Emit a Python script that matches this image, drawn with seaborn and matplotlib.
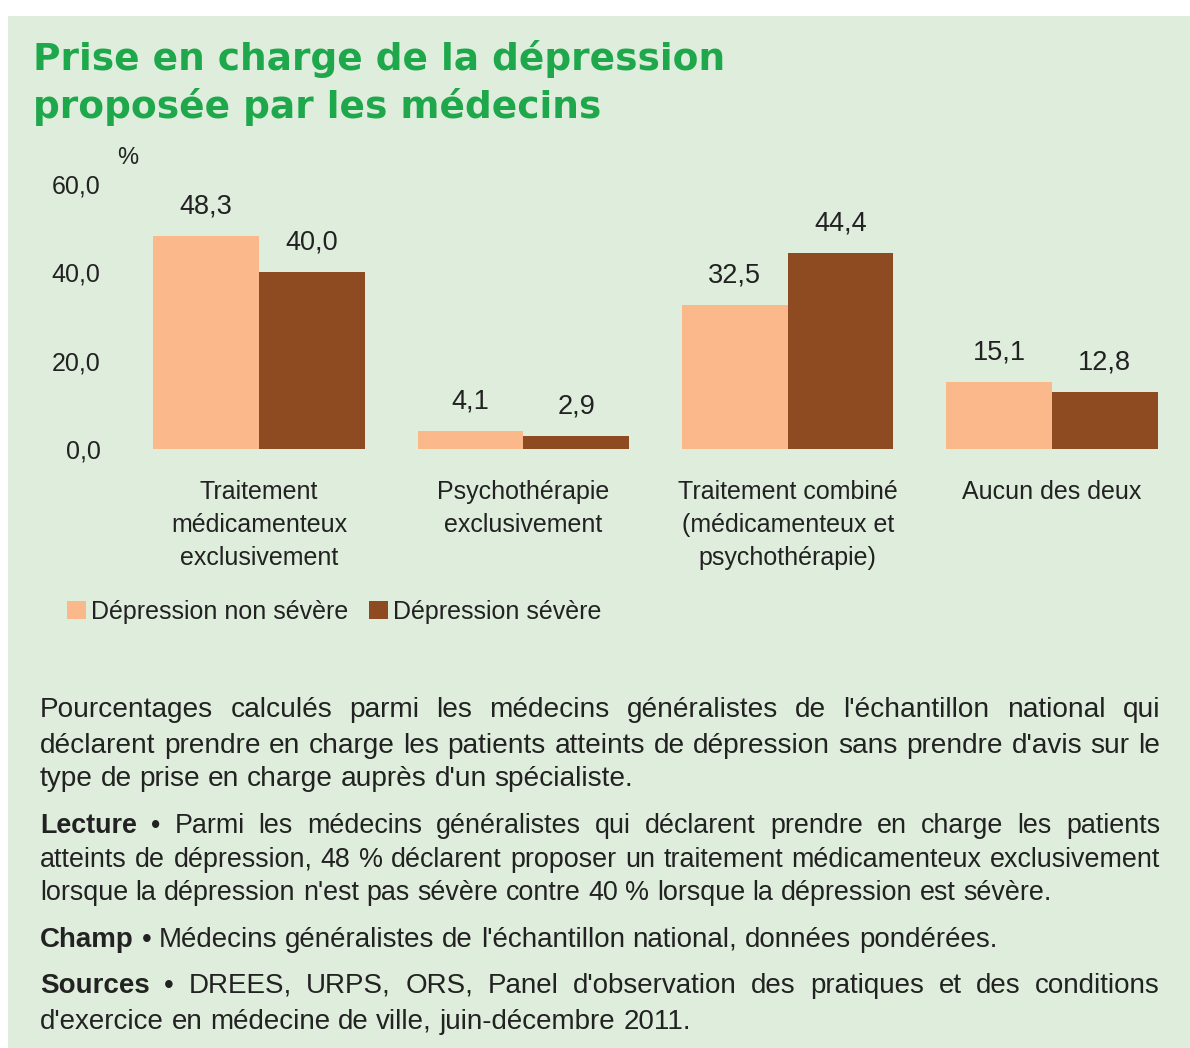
import matplotlib.pyplot as plt
import seaborn as sns
import pandas as pd
from matplotlib.patches import Rectangle

# data
categories = [
    "Traitement\nmédicamenteux\nexclusivement",
    "Psychothérapie\nexclusivement",
    "Traitement combiné\n(médicamenteux et\npsychothérapie)",
    "Aucun des deux",
]
series = ["Dépression non sévère", "Dépression sévère"]
non_severe = [48.3, 4.1, 32.5, 15.1]
severe = [40.0, 2.9, 44.4, 12.8]
yticks = [0, 20, 40, 60]

title_lines = ["Prise en charge de la dépression", "proposée par les médecins"]
notes = [
    # (text, bold lead word, justified)
    ("Pourcentages calculés parmi les médecins généralistes de l'échantillon national qui", None, True),
    ("déclarent prendre en charge les patients atteints de dépression sans prendre d'avis sur le", None, True),
    ("type de prise en charge auprès d'un spécialiste.", None, False),
    ("Lecture • Parmi les médecins généralistes qui déclarent prendre en charge les patients", "Lecture", True),
    ("atteints de dépression, 48 % déclarent proposer un traitement médicamenteux exclusivement", None, True),
    ("lorsque la dépression n'est pas sévère contre 40 % lorsque la dépression est sévère.", None, False),
    ("Champ • Médecins généralistes de l'échantillon national, données pondérées.", "Champ", False),
    ("Sources • DREES, URPS, ORS, Panel d'observation des pratiques et des conditions", "Sources", True),
    ("d'exercice en médecine de ville, juin-décembre 2011.", None, False),
]
note_baselines = [717, 753, 786, 833, 867, 900, 947, 993, 1029]
note_sizes = [20.2, 20.2, 20.2, 19.4, 19.4, 19.4, 20, 20, 20]

BG = "#dfeddc"
LIGHT = "#fbb88b"
DARK = "#8e4a21"
GREEN = "#1fa84b"
TXT = "#222222"
W, H = 1190, 1048

df = pd.DataFrame({
    "categorie": categories * 2,
    "serie": [series[0]] * len(categories) + [series[1]] * len(categories),
    "valeur": non_severe + severe,
})

sns.set_theme(style="white")
plt.rcParams["font.family"] = ["Liberation Sans", "DejaVu Sans"]
plt.rcParams["text.color"] = TXT

fig = plt.figure(figsize=(W / 100, H / 100), dpi=100)
fig.patch.set_facecolor("white")
fig.patches.append(Rectangle((8 / W, 0), 1 - 8 / W, 1 - 16 / H, transform=fig.transFigure,
                             facecolor=BG, edgecolor="none", zorder=-10))

ax = fig.add_axes([127 / W, 1 - 449 / H, 1057 / W, 265 / H])
ax.patch.set_visible(False)
sns.barplot(data=df, x="categorie", y="valeur", hue="serie", palette=[LIGHT, DARK],
            saturation=1, width=0.8, linewidth=0, ax=ax)
ax.set_xlim(-0.5, 3.5)
ax.set_ylim(0, 60)
sns.despine(ax=ax, left=True, bottom=True)
ax.set_xlabel("")
ax.set_ylabel("")
ax.set_yticks(yticks, [f"{v:.1f}".replace(".", ",") for v in yticks])
ax.tick_params(axis="y", length=0, pad=19, labelsize=18, labelcolor=TXT)
ax.tick_params(axis="x", length=0, pad=22, labelcolor=TXT)
for lab in ax.get_xticklabels():
    lab.set_fontsize(18)
    lab.set_linespacing(1.48)

for cont in ax.containers:
    ax.bar_label(cont, labels=[f"{v:.1f}".replace(".", ",") for v in cont.datavalues],
                 padding=12, fontsize=19.5, color=TXT)

fig.text(128 / W, 1 - 158 / H, "%", fontsize=17, ha="center", va="center")

sns.move_legend(ax, "center left", bbox_to_anchor=(67 / W, 1 - 612 / H),
                bbox_transform=fig.transFigure, ncol=2, frameon=False, title=None,
                fontsize=18, handlelength=0.75, handleheight=0.75, handletextpad=0.2,
                columnspacing=0.85, borderpad=0, borderaxespad=0)

# title
fig.text(33 / W, 1 - 70 / H, title_lines[0], fontsize=27, fontweight="bold",
         color=GREEN, family="DejaVu Sans", va="baseline")
fig.text(33 / W, 1 - 118 / H, title_lines[1], fontsize=27, fontweight="bold",
         color=GREEN, family="DejaVu Sans", va="baseline")

# footnotes, justified word by word
renderer = fig.canvas.get_renderer()
left, right = 40, 1160
for (line, bold, justify), base, size in zip(notes, note_baselines, note_sizes):
    words = line.split(" ")
    objs = []
    for w in words:
        wt = "bold" if w == bold else "normal"
        objs.append(fig.text(0, 1 - base / H, w, fontsize=size, fontweight=wt,
                             va="baseline", ha="left", color=TXT))
    widths = [o.get_window_extent(renderer).width for o in objs]
    if justify:
        gap = (right - left - sum(widths)) / (len(objs) - 1)
    else:
        gap = 0.278 * size * 100 / 72
    x = left
    for o, w in zip(objs, widths):
        o.set_x(x / W)
        x += w + gap

fig.savefig("out.png", dpi=100)
